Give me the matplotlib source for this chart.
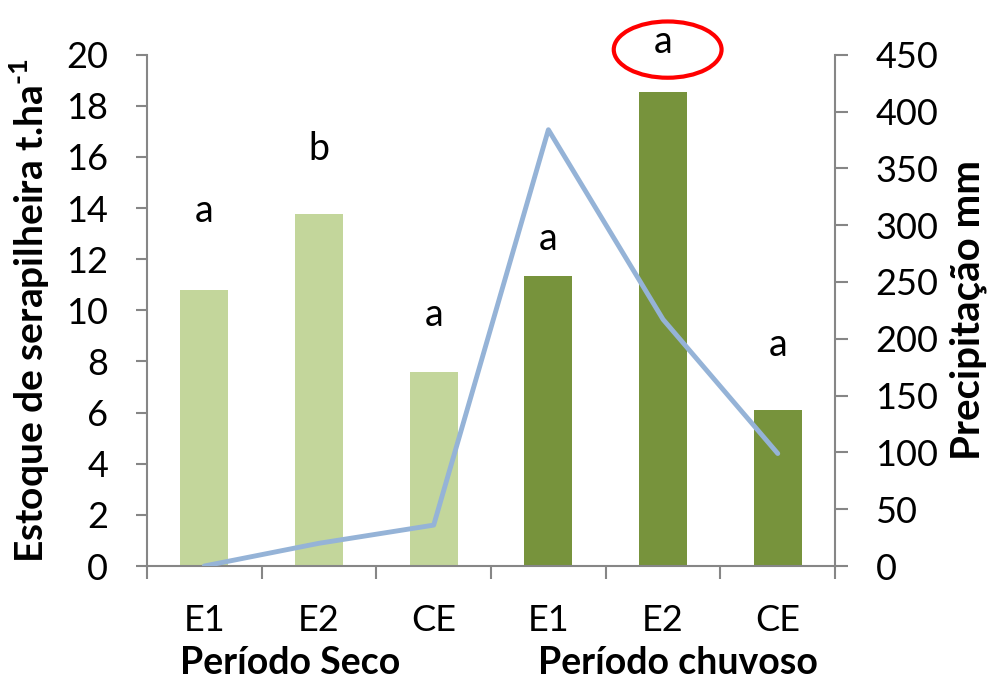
import matplotlib.pyplot as plt
import numpy as np
from matplotlib.patches import Ellipse

categories = ['E1', 'E2', 'CE', 'E1', 'E2', 'CE']
estoque = [10.8, 13.75, 7.6, 11.35, 18.55, 6.1]
precipitacao = [0, 20, 36, 384, 217, 99]
letras = ['a', 'b', 'a', 'a', 'a', 'a']
letras_y = [13.9, 16.3, 9.8, 12.8, 20.5, 8.65]
periodos = ['Período Seco', 'Período chuvoso']

plt.rcParams['font.family'] = ['Lato', 'DejaVu Sans']
plt.rcParams['mathtext.fontset'] = 'custom'
plt.rcParams['mathtext.rm'] = 'Lato:bold'
plt.rcParams['mathtext.bf'] = 'Lato:bold'

fig = plt.figure(figsize=(9.93, 6.84), dpi=100)
ax = fig.add_axes([0.148, 0.1725, 0.693, 0.7475])

x = np.arange(len(categories))
colors = ['#C3D69B'] * 3 + ['#77933C'] * 3
ax.bar(x, estoque, width=0.42, color=colors, zorder=2)

ax.set_xlim(-0.5, 5.5)
ax.set_ylim(0, 20)
ax.set_yticks(np.arange(0, 21, 2))

gray = '#868686'
for s in ['top', 'right']:
    ax.spines[s].set_visible(False)
for s in ['left', 'bottom']:
    ax.spines[s].set_color(gray)
    ax.spines[s].set_linewidth(1.5)

ax.set_xticks(x)
ax.set_xticklabels(categories, fontsize=26)
ax.set_xticks(np.arange(-0.5, 6, 1), minor=True)
ax.tick_params(axis='x', which='major', length=0, pad=27)
ax.tick_params(axis='x', which='minor', length=9, width=1.5, color=gray, direction='out')
ax.tick_params(axis='y', length=8, width=1.5, color=gray, labelsize=26, pad=20)

ax.set_ylabel('Estoque de serapilheira t.ha$^{\\text{-1}}$', fontsize=28, fontweight='bold', labelpad=10)

for xi, l, ly in zip(x, letras, letras_y):
    ax.text(xi, ly, l, fontsize=27, ha='center', va='center', clip_on=False)

ax.add_patch(Ellipse((4.04, 20.2), 0.94, 2.2, fill=False, edgecolor='#FF0000', linewidth=3, clip_on=False))

ax.text(0.75, -0.19, periodos[0], transform=ax.get_xaxis_transform(), fontsize=27, fontweight='bold', ha='center', va='center')
ax.text(4.13, -0.19, periodos[1], transform=ax.get_xaxis_transform(), fontsize=27, fontweight='bold', ha='center', va='center')

ax2 = ax.twinx()
ax2.plot(x, precipitacao, color='#95B3D7', linewidth=3.5, solid_capstyle='round', zorder=3)
ax2.set_ylim(0, 450)
ax2.set_yticks(np.arange(0, 451, 50))
for s in ['top', 'left', 'bottom']:
    ax2.spines[s].set_visible(False)
ax2.spines['right'].set_color(gray)
ax2.spines['right'].set_linewidth(1.5)
ax2.tick_params(axis='y', length=9, width=1.5, color=gray, labelsize=26, pad=20)
ax2.set_ylabel('Precipitação mm', fontsize=29, fontweight='bold', labelpad=8)

fig.savefig('out.png', dpi=100)
